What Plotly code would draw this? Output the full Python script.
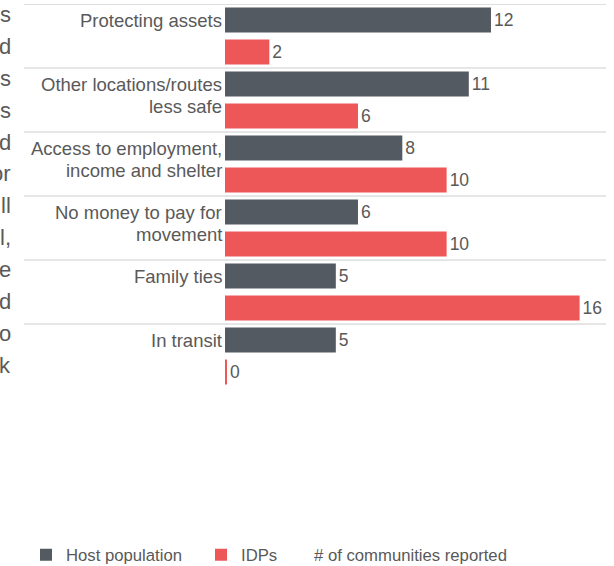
import plotly.graph_objects as go

# ---- data ----
categories = [
    "Protecting assets",
    "Other locations/routes<br>less safe",
    "Access to employment,<br>income and shelter",
    "No money to pay for<br>movement",
    "Family ties",
    "In transit",
]
host_population = [12, 11, 8, 6, 5, 5]
idps = [2, 6, 10, 10, 16, 0]
series_names = ["Host population", "IDPs", "# of communities reported"]
# clipped paragraph text visible at the left edge of the page
side_fragments = ["s", "d", "s", "s", "d", "or", "ll", "l,", "e", "d", "o", "k"]

# ---- style ----
W, H = 614, 566
ML, MR, MT, MB = 225, 8, 4, 178
DARK = "#535a61"
RED = "#ee5758"
TXT = "#595959"
GRID = "#dedede"
FONT = "Liberation Sans, Arial, sans-serif"

plot_w = W - ML - MR
plot_h = H - MT - MB
x_max = 17.19
HAIR = 0.06  # zero values drawn as a hairline

fig = go.Figure()
fig.add_trace(go.Bar(
    y=categories, x=host_population, orientation="h", name=series_names[0],
    marker=dict(color=DARK, line=dict(width=0)),
    text=[str(v) for v in host_population], textposition="outside",
    textfont=dict(size=17.5, color=TXT, family=FONT), cliponaxis=False,
    legend="legend",
))
fig.add_trace(go.Bar(
    y=categories, x=[max(v, HAIR) for v in idps], orientation="h", name=series_names[1],
    marker=dict(color=RED, line=dict(width=0)),
    text=[str(v) for v in idps], textposition="outside",
    textfont=dict(size=17.5, color=TXT, family=FONT), cliponaxis=False,
    legend="legend2",
))
fig.add_trace(go.Scatter(
    x=[None], y=[None], mode="markers", name=series_names[2],
    marker=dict(color="rgba(0,0,0,0)", size=1),
    legend="legend3",
))

annotations = []
LINE = 22
for i, cat in enumerate(categories):
    for j, line in enumerate(cat.split("<br>")):
        annotations.append(dict(
            xref="paper", x=0, xanchor="right", xshift=-1,
            yref="y", y=i - 0.25, yanchor="middle", yshift=-j * LINE,
            text=line, showarrow=False, align="right",
            font=dict(size=18.5, color=TXT, family=FONT),
        ))

for k, frag in enumerate(side_fragments):
    pix_y = 14.5 + 31.9 * k
    annotations.append(dict(
        xref="paper", x=(13 - ML) / plot_w, xanchor="right",
        yref="paper", y=1 - (pix_y - MT) / plot_h, yanchor="middle",
        text=frag, showarrow=False, align="right",
        font=dict(size=22, color=TXT, family=FONT),
    ))

shapes = []
for i in range(len(categories)):
    shapes.append(dict(
        type="line", xref="paper", x0=(24 - ML) / plot_w, x1=1,
        yref="y", y0=i - 0.5, y1=i - 0.5,
        line=dict(color=GRID, width=2 if i == 0 else 1.5),
        layer="below",
    ))

legend_y = -(555 - (MT + plot_h)) / plot_h


def legend_at(px):
    return dict(
        orientation="h", x=(px - ML) / plot_w, xanchor="left",
        y=legend_y, yanchor="middle",
        font=dict(size=16.7, color=TXT, family=FONT),
        bgcolor="rgba(0,0,0,0)", borderwidth=0, itemclick=False,
    )


fig.update_layout(
    width=W, height=H,
    margin=dict(l=ML, r=MR, t=MT, b=MB, pad=0, autoexpand=False),
    paper_bgcolor="white", plot_bgcolor="white",
    barmode="group", bargap=0, bargroupgap=0.22,
    font=dict(family=FONT, color=TXT),
    xaxis=dict(range=[0, x_max], visible=False, showgrid=False, zeroline=False),
    yaxis=dict(range=[len(categories) - 0.5, -0.5], type="category",
               showticklabels=False, showgrid=False, zeroline=False, ticks=""),
    showlegend=True,
    legend=legend_at(26),
    legend2=legend_at(201),
    legend3=legend_at(274),
    annotations=annotations,
    shapes=shapes,
)

fig.write_html(
    "out.html",
    config={"displayModeBar": False},
    post_script="document.body.style.margin='0px';",
)
